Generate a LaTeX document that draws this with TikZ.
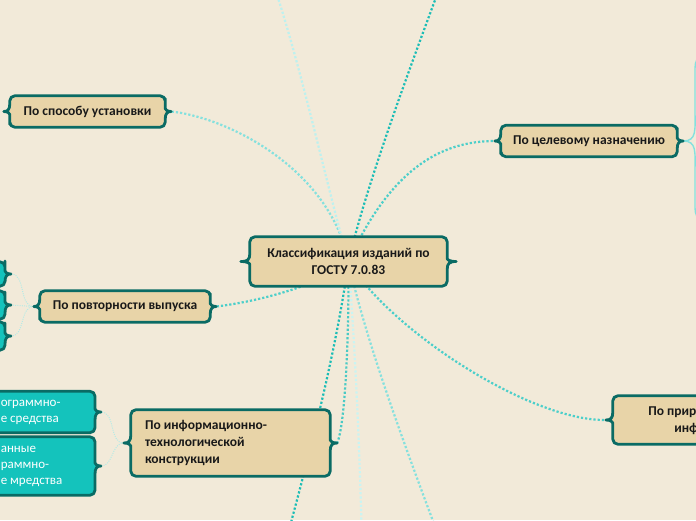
\documentclass[tikz,border=0pt]{standalone}
\usepackage{fontspec}
\setmainfont{Carlito}
\usetikzlibrary{calc}

\definecolor{pagebg}{HTML}{F2EAD9}
\definecolor{boxfill}{HTML}{E8D4A8}
\definecolor{rimteal}{HTML}{0A6B64}
\definecolor{leafteal}{HTML}{14C3BC}
\definecolor{linkdark}{HTML}{1CBDB6}
\definecolor{linkmid}{HTML}{4CCFCA}
\definecolor{linksoft}{HTML}{84E1DE}
\definecolor{linkpale}{HTML}{BDF1EF}
\definecolor{twigpale}{HTML}{B4EAE6}

\pgfdeclarelayer{back}
\pgfdeclarelayer{links}
\pgfdeclarelayer{boxes}
\pgfsetlayers{back,links,boxes,main}

\tikzset{
  topic/.style={font=\fontsize{13.5}{17}\selectfont\bfseries, text=black!90, inner xsep=12pt,
    minimum height=31pt, align=center},
  leaf/.style={topic, font=\fontsize{13}{16}\selectfont, text=white, align=flush left, inner xsep=6pt},
  rim/.style={draw=rimteal, line width=2.8pt, line join=round},
  link/.style={line width=2.2pt, dash pattern=on 2.2pt off 2pt},
  twig/.style={line width=1pt, dash pattern=on 1pt off 1.2pt},
}

% frame with a curly notch on both sides
\newcommand{\curlybox}[3]{%
  \begin{pgfonlayer}{boxes}
  \draw[rim, fill=#2, rounded corners=5pt]
    ([yshift=8pt]#1.west) -- (#1.north west) -- (#1.north east) -- ([yshift=8pt]#1.east)
    [sharp corners] .. controls ([yshift=2pt]#1.east) and ([xshift=2pt]#1.east) .. ([xshift=#3]#1.east)
    .. controls ([xshift=2pt]#1.east) and ([yshift=-2pt]#1.east) .. ([yshift=-8pt]#1.east)
    [rounded corners=5pt] -- (#1.south east) -- (#1.south west) -- ([yshift=-8pt]#1.west)
    [sharp corners] .. controls ([yshift=-2pt]#1.west) and ([xshift=-2pt]#1.west) .. ([xshift=-#3]#1.west)
    .. controls ([xshift=-2pt]#1.west) and ([yshift=2pt]#1.west) .. cycle;
  \end{pgfonlayer}}

\begin{document}
\begin{tikzpicture}[x=1pt, y=-1pt]
  \useasboundingbox (0,0) rectangle (696,520);
  \begin{pgfonlayer}{back}
    \fill[pagebg] (0,0) rectangle (696,520);
  \end{pgfonlayer}
  % ---- темы ----
  \node[topic, minimum width=197pt, minimum height=49pt] (hub) at (348.5,261.5)
    {Классификация изданий по\\ГОСТУ 7.0.83};
  \node[topic, minimum width=155pt] (ust) at (87.5,111.5) {По способу установки};
  \node[topic, minimum width=176pt] (cel) at (589,141) {По целевому назначению};
  \node[topic, minimum width=170pt] (pov) at (125,306.5) {По повторности выпуска};
  \node[topic, text width=171pt, inner xsep=14pt, align=flush left, minimum height=66pt] (inf)
    at (230.5,443) {По информационно-\\технологической\\конструкции};
  \node[topic, minimum width=200pt, minimum height=48pt] (pri) at (713,420)
    {По природе основной\\информации};
  % ---- листья ----
  \node[leaf, minimum width=60pt, minimum height=24pt, anchor=east] (povA) at (5,274) {};
  \node[leaf, minimum width=60pt, minimum height=28pt, anchor=east] (povB) at (5,305) {};
  \node[leaf, minimum width=60pt, minimum height=28pt, anchor=east] (povC) at (5,336) {};
  \node[leaf, text width=88pt, minimum height=41pt, anchor=east] (infA) at (95,412)
    {ограммно-\\е средства};
  \node[leaf, text width=88pt, minimum height=58pt, anchor=east] (infB) at (95,466)
    {анные\\раммно-\\е мредства};
  \coordinate (celA) at (722,50);
  \coordinate (celB) at (722,226);
  \coordinate (upL) at (272,-20);
  \coordinate (upR) at (450,-40);
  \coordinate (downL) at (285,545);
  \coordinate (downM) at (362,545);
  \coordinate (downR) at (442,545);
  % ---- рамки ----
  \curlybox{hub}{boxfill}{9pt}
  \curlybox{ust}{boxfill}{6pt}
  \curlybox{cel}{boxfill}{6pt}
  \curlybox{pov}{boxfill}{6pt}
  \curlybox{inf}{boxfill}{7pt}
  \curlybox{pri}{boxfill}{7pt}
  \curlybox{povA}{leafteal}{6pt}
  \curlybox{povB}{leafteal}{6pt}
  \curlybox{povC}{leafteal}{6pt}
  \curlybox{infA}{leafteal}{6pt}
  \curlybox{infB}{leafteal}{6pt}
  % ---- связи ----
  \begin{pgfonlayer}{links}
    \draw[link, draw=linksoft] (hub.center) .. controls (330,170) and (230,118) .. ([xshift=6pt]ust.east);
    \draw[link, draw=linkmid] (hub.center) .. controls (390,170) and (440,141) .. ([xshift=-6pt]cel.west);
    \draw[link, draw=linkmid] (hub.center) .. controls (330,280) and (270,300) .. ([xshift=6pt]pov.east);
    \draw[link, draw=linkdark!80] (hub.center) .. controls (349,340) and (345,425) .. ([xshift=7pt]inf.east);
    \draw[link, draw=linkmid] (hub.center) .. controls (390,330) and (530,421) .. ([xshift=-7pt]pri.west);
    \draw[link, draw=linkpale] (hub.center) .. controls (330,200) and (300,60) .. (upL);
    \draw[link, draw=linkdark] (hub.center) .. controls (365,190) and (405,80) .. (upR);
    \draw[link, draw=linkdark] (hub.center) .. controls (335,360) and (305,470) .. (downL);
    \draw[link, draw=linkpale!80] (hub.center) .. controls (356,360) and (360,460) .. (downM);
    \draw[link, draw=linksoft] (hub.center) .. controls (365,340) and (410,460) .. (downR);
    % ветви второго уровня
    \draw[twig, draw=twigpale] ([xshift=-6pt]pov.west) to[out=180,in=0] ([xshift=6pt]povA.east);
    \draw[twig, draw=twigpale] ([xshift=-6pt]pov.west) -- ([xshift=6pt]povB.east);
    \draw[twig, draw=twigpale] ([xshift=-6pt]pov.west) to[out=180,in=0] ([xshift=6pt]povC.east);
    \draw[twig, draw=twigpale] ([xshift=-7pt]inf.west) to[out=180,in=0] ([xshift=6pt]infA.east);
    \draw[twig, draw=twigpale] ([xshift=-7pt]inf.west) to[out=180,in=0] ([xshift=6pt]infB.east);
    \draw[line width=1.4pt, draw=linksoft] ([xshift=6pt]cel.east) .. controls (697,141) and (695,130) .. (695,110)
      -- (695,68) .. controls (695,55) and (705,50) .. (celA);
    \draw[line width=1.4pt, draw=linksoft] ([xshift=6pt]cel.east) .. controls (697,141) and (695,152) .. (695,172)
      -- (695,208) .. controls (695,221) and (705,226) .. (celB);
  \end{pgfonlayer}
\end{tikzpicture}
\end{document}
